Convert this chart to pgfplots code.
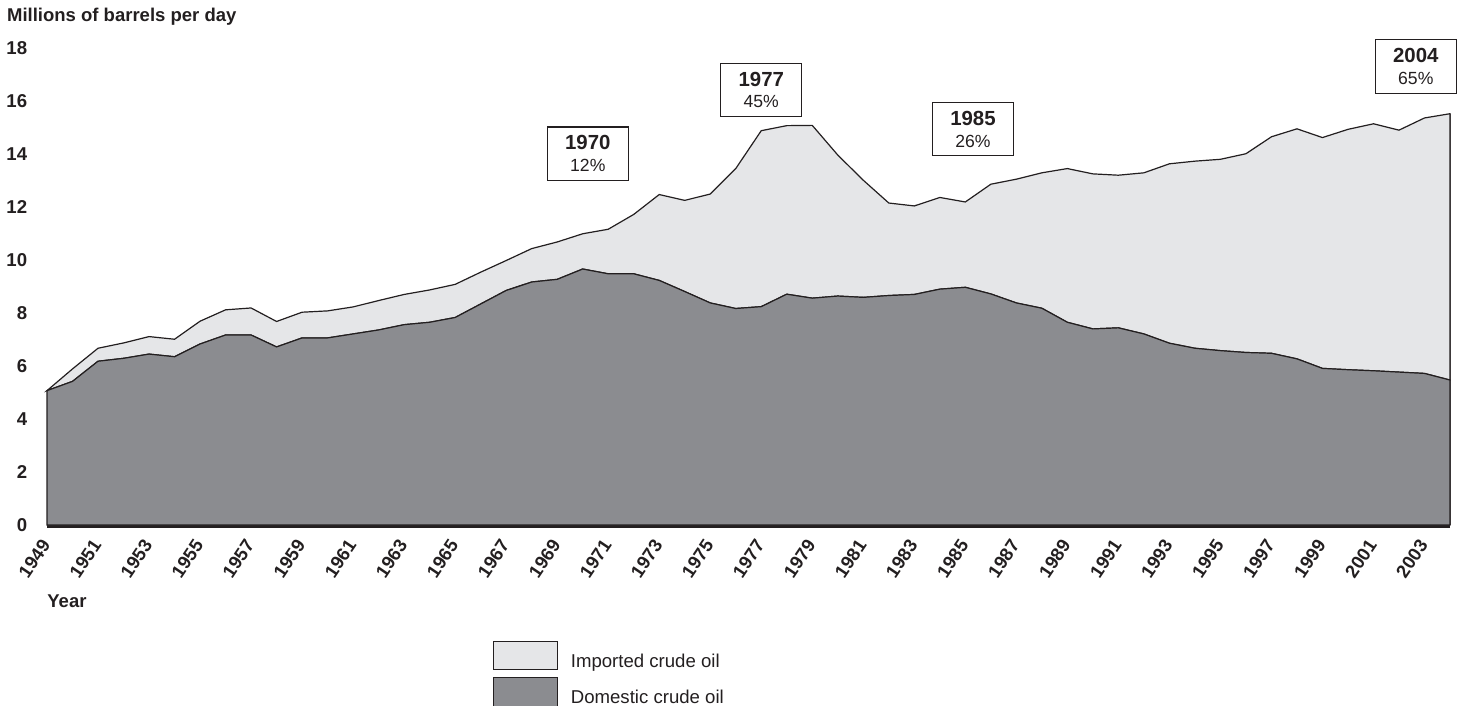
\documentclass[border=0pt]{standalone}
\usepackage{pgfplots}
\usepackage{pgfplotstable}
\pgfplotsset{compat=1.18}
\usepackage{fontspec}
\setmainfont{Liberation Sans}
\definecolor{ink}{RGB}{35,31,32}
\definecolor{domfill}{RGB}{139,140,144}
\definecolor{impfill}{RGB}{229,230,232}

\pgfplotstableread{
year dom imp
1949 5.07 0.00
1950 5.42 0.47
1951 6.18 0.49
1952 6.29 0.58
1953 6.45 0.66
1954 6.35 0.66
1955 6.83 0.86
1956 7.17 0.95
1957 7.17 1.02
1958 6.72 0.96
1959 7.06 0.97
1960 7.06 1.02
1961 7.21 1.02
1962 7.36 1.11
1963 7.56 1.14
1964 7.65 1.22
1965 7.83 1.25
1966 8.34 1.20
1967 8.85 1.13
1968 9.17 1.26
1969 9.27 1.41
1970 9.66 1.33
1971 9.48 1.68
1972 9.48 2.24
1973 9.23 3.24
1974 8.81 3.44
1975 8.38 4.11
1976 8.17 5.28
1977 8.24 6.64
1978 8.71 6.36
1979 8.56 6.52
1980 8.64 5.32
1981 8.59 4.42
1982 8.66 3.49
1983 8.70 3.34
1984 8.90 3.46
1985 8.97 3.22
1986 8.72 4.14
1987 8.38 4.67
1988 8.18 5.11
1989 7.65 5.80
1990 7.40 5.85
1991 7.44 5.76
1992 7.21 6.08
1993 6.86 6.77
1994 6.67 7.06
1995 6.58 7.22
1996 6.51 7.50
1997 6.48 8.17
1998 6.27 8.68
1999 5.91 8.71
2000 5.86 9.07
2001 5.82 9.32
2002 5.77 9.13
2003 5.72 9.64
2004 5.47 10.05
}\oiltable

\tikzset{callout/.style={draw=ink, line width=0.6bp, fill=white, minimum width=40.5bp,
  minimum height=26.75bp, inner sep=0pt, align=center, text=ink,
  font=\fontsize{9bp}{10.9bp}\selectfont}}

\begin{document}
\begin{tikzpicture}
\path[use as bounding box] (-23.5bp,-90.5bp) rectangle (708bp,262.5bp);
\begin{axis}[
  at={(0,0)}, anchor=south west,
  scale only axis, width=701.5bp, height=238.5bp,
  xmin=1949, xmax=2004, ymin=0, ymax=18,
  axis line style={draw=none},
  major tick length=0pt,
  xtick={1949,1951,...,2003},
  ytick={0,2,...,18},
  /pgf/number format/assume math mode=true,
  /pgf/number format/1000 sep={},
  ticklabel style={font=\fontsize{9.3bp}{11bp}\selectfont\bfseries, text=ink},
  yticklabel style={anchor=east, inner sep=0pt, xshift=-9.75bp},
  xticklabel style={xshift=-0.5bp, yshift=-8.2bp, rotate=56, anchor=east, inner sep=0pt,
    font=\fontsize{9.2bp}{10bp}\selectfont\bfseries},
  stack plots=y,
  clip=false,
  reverse legend,
  legend cell align=left,
  legend style={at={(axis description cs:0.318,-0.2426)}, anchor=north west,
    draw=none, fill=none, inner sep=0pt, outer sep=0pt, row sep=3.45bp,
    font=\fontsize{9.3bp}{11bp}\selectfont, text=ink, nodes={inner sep=0pt},
    /tikz/column 1/.style={column sep=6.65bp}},
  legend image code/.code={\draw[#1, line width=0.5bp] (0bp,-3.85bp) rectangle (31.7bp,10.45bp);},
]
\addplot[fill=domfill, draw=ink, line width=0.6bp] table[x=year, y=dom] {\oiltable} \closedcycle;
\addplot[fill=impfill, draw=ink, line width=0.6bp] table[x=year, y=imp] {\oiltable} \closedcycle;
\legend{Domestic crude oil, Imported crude oil}

\draw[ink, line width=3bp] (axis cs:1949,0) -- (axis cs:2004,0);
\draw[ink!75, line width=1.2bp] (axis cs:2004,0) -- (axis cs:2004,15.52);

\node[callout] at (axis cs:1970.2,14.01) {{\fontsize{10.2bp}{10.9bp}\selectfont\bfseries 1970}\\{\fontsize{8.8bp}{10.9bp}\selectfont 12\%}};
\node[callout] at (axis cs:1977.0,16.42) {{\fontsize{10.2bp}{10.9bp}\selectfont\bfseries 1977}\\{\fontsize{8.8bp}{10.9bp}\selectfont 45\%}};
\node[callout] at (axis cs:1985.3,14.94) {{\fontsize{10.2bp}{10.9bp}\selectfont\bfseries 1985}\\{\fontsize{8.8bp}{10.9bp}\selectfont 26\%}};
\node[callout] at (axis cs:2002.66,17.30) {{\fontsize{10.2bp}{10.9bp}\selectfont\bfseries 2004}\\{\fontsize{8.8bp}{10.9bp}\selectfont 65\%}};

\node[anchor=base west, inner sep=0pt, text=ink, font=\fontsize{9.25bp}{11bp}\selectfont\bfseries]
  at (axis description cs:-0.0287,1.0551) {Millions of barrels per day};
\node[anchor=base west, inner sep=0pt, text=ink, font=\fontsize{9.25bp}{11bp}\selectfont\bfseries]
  at (axis description cs:0,-0.1725) {Year};
\end{axis}
\end{tikzpicture}
\end{document}
